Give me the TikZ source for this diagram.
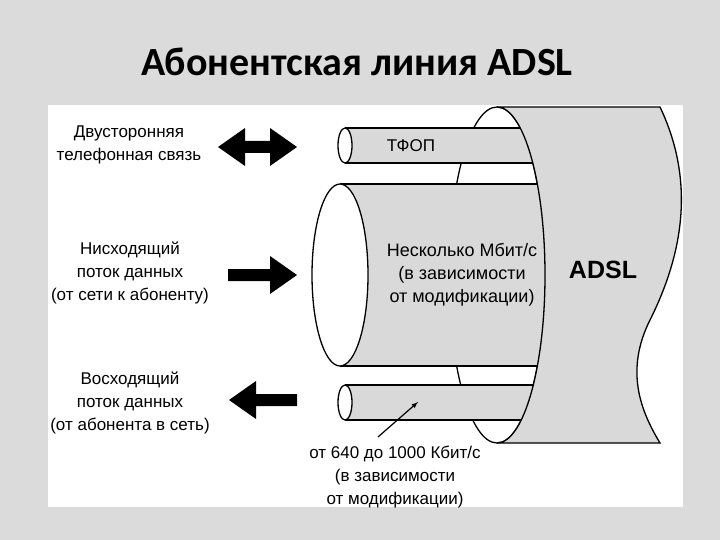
\documentclass[tikz,border=0pt]{standalone}
\usepackage{fontspec}
\setmainfont{Liberation Sans}
\newfontfamily\titlefont{Carlito}
\begin{document}
\begin{tikzpicture}[x=1pt,y=-1pt,
  lbl/.style={font=\fontsize{17}{23}\selectfont, align=center, inner sep=0pt},
  blk/.style={fill=black},
  cab/.style={fill=gray!30, draw=black, line width=1.3pt}]
\fill[gray!28] (0,0) rectangle (720,540);
\useasboundingbox (0,0) rectangle (720,540);
\fill[white] (48,105) rectangle (683,507);
\node[font=\titlefont\bfseries\fontsize{40}{44}\selectfont, inner sep=0pt] (title) at (357,62) {Абонентская линия ADSL};
% big cable face
\draw[fill=white, line width=1.3pt] (497,275) ellipse [x radius=48, y radius=168];
% middle cylinder
\fill[gray!30] (340,184) rectangle (560,366);
\draw[line width=1.3pt] (340,184) -- (560,184) (340,366) -- (560,366);
% top cylinder
\fill[gray!30] (345,128) rectangle (560,163);
\draw[line width=1.3pt] (345,128) -- (560,128) (345,163) -- (560,163);
% bottom cylinder
\fill[gray!30] (345,385) rectangle (560,420);
\draw[line width=1.3pt] (345,385) -- (560,385) (345,420) -- (560,420);
% big body
\draw[cab] (497,107) -- (660,107) .. controls (690,170) and (690,240) .. (650,320)
  .. controls (625,370) and (640,410) .. (660,443) -- (497,443)
  arc[start angle=90, end angle=-90, x radius=48, y radius=168] -- cycle;
% caps
\draw[fill=white, line width=1.3pt] (340,275) ellipse [x radius=28, y radius=91];
\draw[fill=white, line width=1.3pt] (345,145.5) ellipse [x radius=7, y radius=17.5];
\draw[fill=white, line width=1.3pt] (345,402.5) ellipse [x radius=7, y radius=17.5];
% texts
\node[lbl] (tfop) at (411,146) {ТФОП};
\node[lbl, font=\fontsize{18}{23}\selectfont] (mid) at (462,275) {Несколько Мбит/с\\(в зависимости\\от модификации)};
\node[font=\bfseries\fontsize{25}{28}\selectfont, inner sep=0pt] (adsl) at (603,270) {ADSL};
\node[lbl] (low) at (395,477) {от 640 до 1000 Кбит/с\\(в зависимости\\от модификации)};
\coordinate (ptr) at (418,402);
\draw[-latex, line width=1.2pt] (378,437) -- (ptr);
\node[lbl] (t1) at (129,145) {Двусторонняя\\телефонная связь};
\node[lbl] (t2) at (130,273) {Нисходящий\\поток данных\\(от сети к абоненту)};
\node[lbl] (t3) at (130,403) {Восходящий\\поток данных\\(от абонента в сеть)};
% arrows
\fill[blk] (218,147) -- (245,128) -- (245,141) -- (270,141) -- (270,128) -- (297,147) -- (270,166) -- (270,153) -- (245,153) -- (245,166) -- cycle;
\fill[blk] (228,269) -- (270,269) -- (270,256) -- (297,275) -- (270,294) -- (270,281) -- (228,281) -- cycle;
\fill[blk] (297,394) -- (256,394) -- (256,381) -- (229,400) -- (256,419) -- (256,406) -- (297,406) -- cycle;
\end{tikzpicture}
\end{document}
